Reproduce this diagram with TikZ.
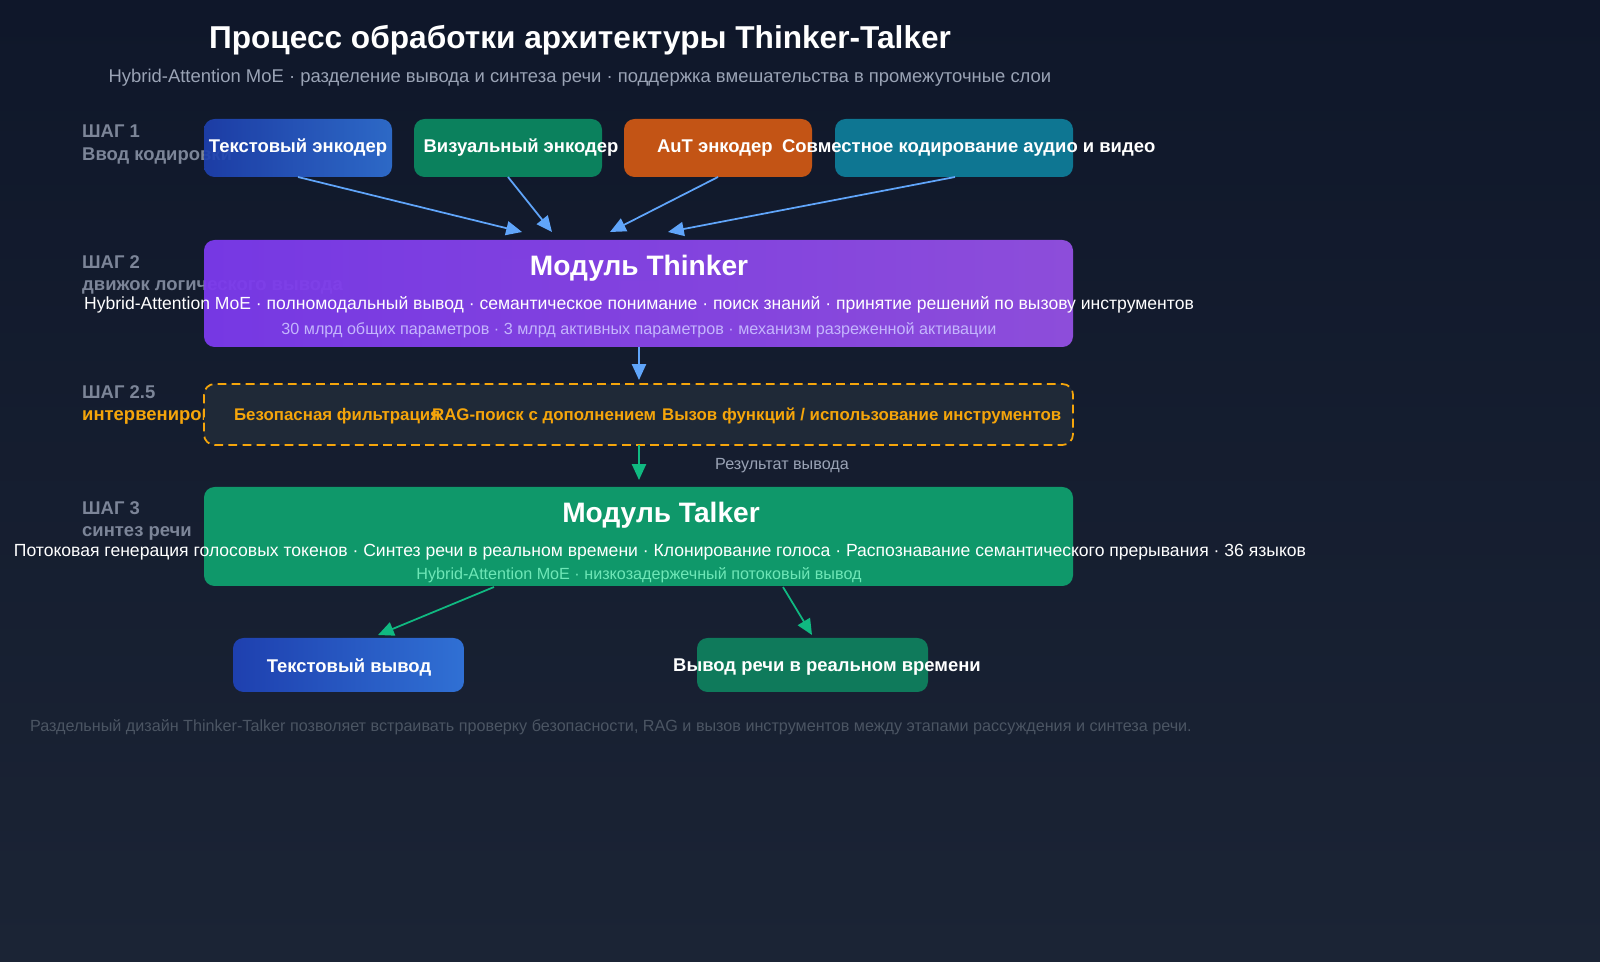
\documentclass[tikz,border=0pt]{standalone}
\usepackage{fontspec}
\setmainfont{Liberation Sans}
\usetikzlibrary{arrows.meta,positioning}
\definecolor{bgtop}{HTML}{0F172A}
\definecolor{bgbot}{HTML}{1B2435}
\definecolor{steplbl}{HTML}{7C8598}
\definecolor{subgray}{HTML}{9AA3B5}
\definecolor{arrblue}{HTML}{60A5FA}
\definecolor{arrgreen}{HTML}{10B981}
\definecolor{encblueA}{HTML}{1E40AF}
\definecolor{encblueB}{HTML}{3070D4}
\definecolor{encgreen}{HTML}{0B8A62}
\definecolor{encorange}{HTML}{D35A14}
\definecolor{encteal}{HTML}{0E7E9B}
\definecolor{thinkA}{HTML}{7C3AED}
\definecolor{thinkB}{HTML}{9450E4}
\definecolor{thinklt}{HTML}{C4B5FD}
\definecolor{talkgreen}{HTML}{0F9F6E}
\definecolor{talklt}{HTML}{6EE7B7}
\definecolor{ivfill}{HTML}{1F2937}
\definecolor{ivorange}{HTML}{F5A50B}
\definecolor{outgreen}{HTML}{0F7A5B}
\definecolor{footgray}{HTML}{4B5563}
\tikzset{
  box/.style={rounded corners=6, draw=none, text=white},
  enc/.style={box, opacity=0.92, text opacity=1},
  steptxt/.style={anchor=west, text=steplbl, font=\fontsize{10.5}{12}\selectfont\bfseries},
  btxt/.style={text=white, font=\fontsize{10.5}{12}\selectfont\bfseries},
  ivtxt/.style={text=ivorange, anchor=west, inner sep=1pt, font=\fontsize{9.6}{12}\selectfont\bfseries},
  flow/.style={-{Triangle[length=9pt,width=8pt]}, line width=1pt},
}
\begin{document}
\begin{tikzpicture}[x=0.02cm,y=-0.02cm]
\useasboundingbox (0,0) rectangle (1600,962);
\shade[top color=bgtop, bottom color=bgbot] (0,0) rectangle (1600,962);
\node[text=white, font=\fontsize{18}{20}\selectfont\bfseries] (title) at (580,40) {Процесс обработки архитектуры Thinker-Talker};
\node[text=subgray, font=\fontsize{10.5}{12}\selectfont] (subtitle) at (580,78) {Hybrid-Attention MoE · разделение вывода и синтеза речи · поддержка вмешательства в промежуточные слои};
% step labels
\node[steptxt] (s1a) at (76,131) {ШАГ 1};
\node[steptxt] (s1b) at (76,156) {Ввод кодировки};
\node[steptxt] (s2a) at (76,262) {ШАГ 2};
\node[steptxt] (s2b) at (76,287) {движок логического вывода};
\node[steptxt] (s25a) at (76,392) {ШАГ 2.5};
\node[steptxt, text=ivorange] (s25b) at (76,417) {интервенирование};
\node[steptxt] (s3a) at (76,508) {ШАГ 3};
\node[steptxt] (s3b) at (76,533) {синтез речи};
% encoders
\shade[enc, left color=encblueA, right color=encblueB] (204,119) rectangle (392,177);
\fill[enc, encgreen] (414,119) rectangle (602,177);
\fill[enc, encorange] (624,119) rectangle (812,177);
\fill[enc, encteal] (835,119) rectangle (1073,177);
\node[btxt] (enctext) at (298,148) {Текстовый энкодер};
\node[btxt] (encvis) at (521,148) {Визуальный энкодер};
\node[btxt, anchor=west, inner sep=1pt] (encaut) at (655,148) {AuT энкодер};
\node[btxt, anchor=west, inner sep=1pt] (encav) at (780,148) {Совместное кодирование аудио и видео};
\coordinate (e1) at (298,177); \coordinate (e2) at (508,177);
\coordinate (e3) at (718,177); \coordinate (e4) at (955,177);
\coordinate (t1) at (522,232); \coordinate (t2) at (552,232);
\coordinate (t3) at (610,232); \coordinate (t4) at (668,232);
\foreach \i in {1,...,4} \draw[flow, arrblue] (e\i) -- (t\i);
% thinker
\shade[box, opacity=0.95, left color=thinkA, right color=thinkB] (204,240) rectangle (1073,347);
\node[text=white, font=\fontsize{16}{18}\selectfont\bfseries] (thinker) at (639,268) {Модуль Thinker};
\node[text=white, font=\fontsize{10}{11}\selectfont] (thinkdesc) at (639,305) {Hybrid-Attention MoE · полномодальный вывод · семантическое понимание · поиск знаний · принятие решений по вызову инструментов};
\node[text=thinklt, font=\fontsize{9.2}{11}\selectfont] (thinkpar) at (639,330) {30 млрд общих параметров · 3 млрд активных параметров · механизм разреженной активации};
\coordinate (thb) at (639,347); \coordinate (ivt) at (639,380);
\draw[flow, arrblue] (thb) -- (ivt);
% intervention
\draw[rounded corners=6, fill=ivfill, draw=ivorange, line width=1pt, dash pattern=on 5pt off 3pt] (204,384) rectangle (1073,445);
\node[ivtxt] (ivsafe) at (232,416) {Безопасная фильтрация};
\node[ivtxt] (ivrag) at (430,416) {RAG-поиск с дополнением};
\node[ivtxt] (ivtool) at (660,416) {Вызов функций / использование инструментов};
\coordinate (ivb) at (639,445); \coordinate (tkt) at (639,480);
\draw[flow, arrgreen] (ivb) -- (tkt);
\node[text=subgray, font=\fontsize{9.2}{11}\selectfont] (result) at (782,466) {Результат вывода};
% talker
\fill[box, talkgreen, opacity=0.95] (204,487) rectangle (1073,586);
\node[text=white, font=\fontsize{16}{18}\selectfont\bfseries] (talker) at (661,515) {Модуль Talker};
\node[text=white, font=\fontsize{10}{11}\selectfont] (talkdesc) at (660,552) {Потоковая генерация голосовых токенов · Синтез речи в реальном времени · Клонирование голоса · Распознавание семантического прерывания · 36 языков};
\node[text=talklt, font=\fontsize{9.2}{11}\selectfont] (talkpar) at (639,575) {Hybrid-Attention MoE · низкозадержечный потоковый вывод};
% outputs
\shade[box, left color=encblueA, right color=encblueB] (233,638) rectangle (464,692);
\fill[box, outgreen] (697,638) rectangle (928,692);
\node[btxt] (outtext) at (349,667) {Текстовый вывод};
\node[btxt] (outspeech) at (827,667) {Вывод речи в реальном времени};
\coordinate (k1) at (494,587); \coordinate (o1) at (378,635);
\coordinate (k2) at (783,587); \coordinate (o2) at (812,635);
\draw[flow, arrgreen] (k1) -- (o1);
\draw[flow, arrgreen] (k2) -- (o2);
\node[text=footgray, font=\fontsize{9.2}{11}\selectfont, anchor=east] (footer) at (1198,727) {Раздельный дизайн Thinker-Talker позволяет встраивать проверку безопасности, RAG и вызов инструментов между этапами рассуждения и синтеза речи.};
\end{tikzpicture}
\end{document}
